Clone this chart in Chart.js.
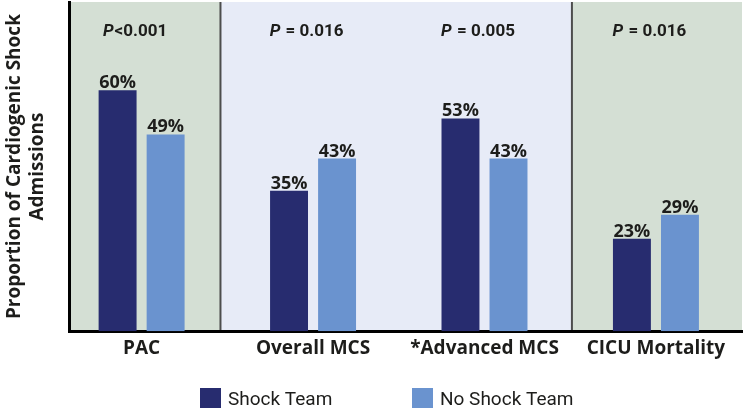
<!DOCTYPE html>
<html><head><meta charset="utf-8">
<script src="https://cdn.jsdelivr.net/npm/chart.js@4.4.1/dist/chart.umd.min.js"></script>
<style>html,body{margin:0;padding:0;background:#fff;}canvas{display:block;}</style>
</head><body>
<canvas id="c" width="747" height="412"></canvas>
<script>
const categories = ['PAC', 'Overall MCS', '*Advanced MCS', 'CICU Mortality'];
const shockTeam = [60, 35, 53, 23];
const noShockTeam = [49, 43, 43, 29];
const pValues = ['<0.001', ' = 0.016', ' = 0.005', ' = 0.016'];
const seriesNames = ['Shock Team', 'No Shock Team'];
const yTitle = ['Proportion of Cardiogenic Shock', 'Admissions'];

const FONT = 'Roboto';
const BFONT = 'Open Sans';
const TEXT = '#1d1d1b';
const COLORS = ['#272c6f', '#6a93cf'];
const GREEN = '#d4dfd4', LAV = '#e7ebf7';

const panelPlugin = {
  id: 'panels',
  beforeDraw(chart) {
    const {ctx, chartArea: a, scales: {x}} = chart;
    const b1 = x.getPixelForValue(0.46), b2 = x.getPixelForValue(2.51);
    const h = a.bottom - a.top;
    ctx.save();
    ctx.fillStyle = GREEN; ctx.fillRect(a.left, a.top, b1 - a.left, h);
    ctx.fillStyle = LAV; ctx.fillRect(b1, a.top, b2 - b1, h);
    ctx.fillStyle = GREEN; ctx.fillRect(b2, a.top, a.right - b2, h);
    ctx.strokeStyle = '#4d4d4d'; ctx.lineWidth = 2;
    [b1, b2].forEach(b => { ctx.beginPath(); ctx.moveTo(b, a.top); ctx.lineTo(b, a.bottom); ctx.stroke(); });
    ctx.restore();
  }
};

const labelPlugin = {
  id: 'valueLabels',
  afterDatasetsDraw(chart) {
    const {ctx} = chart;
    ctx.save();
    ctx.fillStyle = TEXT;
    ctx.textAlign = 'center';
    ctx.textBaseline = 'alphabetic';
    ctx.font = `bold 18px ${BFONT}`;
    chart.data.datasets.forEach((ds, di) => {
      chart.getDatasetMeta(di).data.forEach((bar, i) => {
        ctx.fillText(ds.data[i].y + '%', bar.x, bar.y - 2);
      });
    });
    const xs = chart.scales.x;
    ctx.textAlign = 'left';
    pValues.forEach((p, i) => {
      const cx = xs.getPixelForValue(i) - 7;
      ctx.font = `italic bold 17px ${FONT}`;
      const w1 = ctx.measureText('P').width;
      ctx.font = `bold 17px ${FONT}`;
      const w2 = ctx.measureText(p).width;
      const sx = cx - (w1 + w2) / 2;
      ctx.font = `italic bold 17px ${FONT}`;
      ctx.fillText('P', sx, 36);
      ctx.font = `bold 17px ${FONT}`;
      ctx.fillText(p, sx + w1 + 1, 36);
    });
    ctx.restore();
  }
};

const legendPlugin = {
  id: 'customLegend',
  afterDraw(chart) {
    const {ctx} = chart;
    const starts = [200, 412];
    ctx.save();
    ctx.font = `19px ${FONT}`;
    ctx.textBaseline = 'alphabetic';
    ctx.textAlign = 'left';
    chart.data.datasets.forEach((ds, i) => {
      ctx.fillStyle = ds.backgroundColor;
      ctx.fillRect(starts[i], 388, 21, 20);
      ctx.fillStyle = TEXT;
      ctx.fillText(ds.label, starts[i] + 28, 405);
    });
    ctx.restore();
  }
};

new Chart(document.getElementById('c'), {
  type: 'bar',
  data: {
    datasets: [
      { label: seriesNames[0], data: shockTeam.map((v, i) => ({x: i, y: v})), backgroundColor: COLORS[0] },
      { label: seriesNames[1], data: noShockTeam.map((v, i) => ({x: i, y: v})), backgroundColor: COLORS[1] }
    ]
  },
  options: {
    responsive: false,
    animation: false,
    categoryPercentage: 0.5603,
    barPercentage: 0.79,
    layout: { padding: { left: 0, right: 5, top: 2, bottom: 46 } },
    plugins: { legend: { display: false }, tooltip: { enabled: false } },
    scales: {
      x: {
        type: 'linear',
        offset: false,
        min: -0.42,
        max: 3.502,
        afterBuildTicks: (scale) => { scale.ticks = categories.map((c, i) => ({value: i})); },
        ticks: {
          callback: (v) => categories[v],
          autoSkip: false, maxRotation: 0, padding: 6,
          color: TEXT, font: { family: BFONT, size: 19, weight: 'bold' }
        },
        grid: { display: false, drawTicks: false },
        border: { display: true, color: '#000', width: 3 }
      },
      y: {
        min: 0, max: 82,
        ticks: { display: false },
        grid: { display: false, drawTicks: false },
        border: { display: true, color: '#000', width: 3 },
        title: {
          display: true, text: yTitle, color: TEXT,
          font: { family: BFONT, size: 19, weight: 'bold', lineHeight: 1.2 },
          padding: { top: 3, bottom: 21 }
        }
      }
    }
  },
  plugins: [panelPlugin, labelPlugin, legendPlugin]
});
</script>
</body></html>
